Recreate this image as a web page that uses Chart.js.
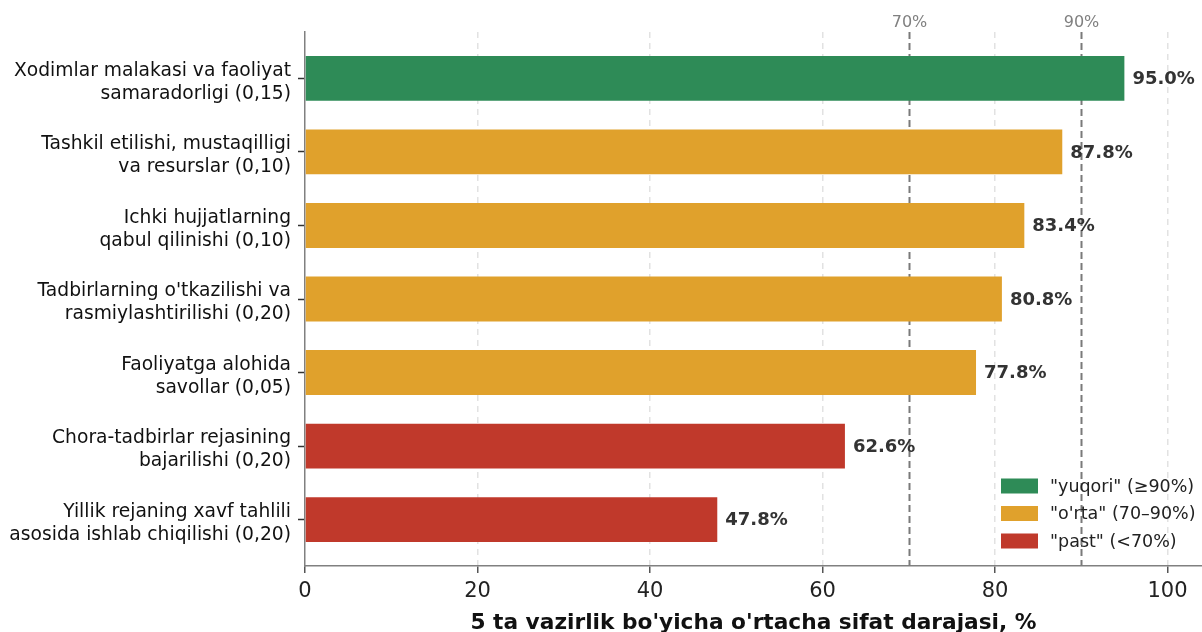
<!DOCTYPE html>
<html>
<head>
<meta charset="utf-8">
<script src="https://cdn.jsdelivr.net/npm/chart.js@4"></script>
<style>
  body { margin: 0; background: #fff; }
  #wrap { width: 1202px; height: 632px; position: relative; }
</style>
</head>
<body>
<div id="wrap"><canvas id="chart"></canvas></div>
<script>
// categories (two lines each) and values, top to bottom
var categories = [
    ['Xodimlar malakasi va faoliyat', 'samaradorligi (0,15)'],
    ['Tashkil etilishi, mustaqilligi', 'va resurslar (0,10)'],
    ['Ichki hujjatlarning', 'qabul qilinishi (0,10)'],
    ["Tadbirlarning o'tkazilishi va", 'rasmiylashtirilishi (0,20)'],
    ['Faoliyatga alohida', 'savollar (0,05)'],
    ['Chora-tadbirlar rejasining', 'bajarilishi (0,20)'],
    ['Yillik rejaning xavf tahlili', 'asosida ishlab chiqilishi (0,20)']
];
var values = [95.0, 87.8, 83.4, 80.8, 77.8, 62.6, 47.8];
var thresholds = [70, 90];
var thresholdLabels = ['70%', '90%'];
var xTickValues = [0, 20, 40, 60, 80, 100];
var levelNames = ['"yuqori" (≥90%)', '"o\'rta" (70–90%)', '"past" (<70%)'];
var levelColors = ['#2e8b57', '#e0a12c', '#c0392b'];

function levelOf(v) {
    if (v >= thresholds[1]) return 0;
    if (v >= thresholds[0]) return 1;
    return 2;
}

Chart.defaults.font.family = 'DejaVu Sans';
Chart.defaults.color = '#222';

var thresholdPlugin = {
    id: 'thresholds',
    beforeDatasetsDraw: function (chart) {
        var ctx = chart.ctx, area = chart.chartArea, xs = chart.scales.x;
        ctx.save();
        thresholds.forEach(function (t, i) {
            var px = Math.round(xs.getPixelForValue(t)) + 0.5;
            ctx.strokeStyle = '#7a7a7a';
            ctx.lineWidth = 2;
            ctx.setLineDash([7, 4]);
            ctx.beginPath();
            ctx.moveTo(px, area.top);
            ctx.lineTo(px, area.bottom);
            ctx.stroke();
            ctx.setLineDash([]);
            ctx.fillStyle = '#808080';
            ctx.font = '16px "DejaVu Sans"';
            ctx.textAlign = 'center';
            ctx.textBaseline = 'middle';
            ctx.fillText(thresholdLabels[i], px, area.top - 9);
        });
        ctx.restore();
    }
};

var valueLabelPlugin = {
    id: 'valueLabels',
    afterDatasetsDraw: function (chart) {
        var ctx = chart.ctx;
        var meta = chart.getDatasetMeta(0);
        ctx.save();
        ctx.font = 'bold 18px "DejaVu Sans"';
        ctx.fillStyle = '#333';
        ctx.textAlign = 'left';
        ctx.textBaseline = 'middle';
        meta.data.forEach(function (bar, i) {
            ctx.fillText(values[i].toFixed(1) + '%', bar.x + 8, bar.y + 1);
        });
        ctx.restore();
    }
};

var legendPlugin = {
    id: 'innerLegend',
    afterDraw: function (chart) {
        var ctx = chart.ctx, area = chart.chartArea;
        var left = area.right - 201;
        var rowH = 27.5;
        var firstY = area.bottom - 80;
        ctx.save();
        ctx.font = '17.5px "DejaVu Sans"';
        ctx.textAlign = 'left';
        ctx.textBaseline = 'middle';
        levelNames.forEach(function (name, i) {
            var y = firstY + i * rowH;
            ctx.fillStyle = levelColors[i];
            ctx.fillRect(left, y - 7.5, 37, 15);
            ctx.fillStyle = '#222';
            ctx.fillText(name, left + 49, y + 1);
        });
        ctx.restore();
    }
};

var ctx = document.getElementById('chart').getContext('2d');
var chart = new Chart(ctx, {
    type: 'bar',
    data: {
        datasets: [{
            data: values.map(function (v, i) { return { x: v, y: i }; }),
            backgroundColor: values.map(function (v) { return levelColors[levelOf(v)]; }),
            borderWidth: 0,
            barPercentage: 0.61,
            categoryPercentage: 1
        }]
    },
    options: {
        indexAxis: 'y',
        responsive: true,
        maintainAspectRatio: false,
        animation: false,
        layout: { padding: { top: 32, right: 0, left: 0, bottom: 0 } },
        plugins: {
            legend: { display: false },
            tooltip: { enabled: false }
        },
        scales: {
            x: {
                type: 'linear',
                min: 0,
                max: 104,
                afterBuildTicks: function (scale) {
                    scale.ticks = xTickValues.map(function (v) { return { value: v }; });
                },
                afterFit: function (scale) { scale.height = 66; },
                ticks: {
                    font: { size: 21 },
                    color: '#222',
                    padding: 6
                },
                grid: {
                    color: function (c) { return c.tick && c.tick.value === 0 ? 'rgba(0,0,0,0)' : '#e2e2e2'; },
                    lineWidth: 1.5,
                    drawTicks: true,
                    tickLength: 7,
                    tickColor: '#555',
                    tickWidth: 1.5
                },
                border: { display: true, color: '#808080', width: 1.5, dash: [6, 5] },
                title: {
                    display: true,
                    text: "5 ta vazirlik bo'yicha o'rtacha sifat darajasi, %",
                    font: { size: 21.7, weight: 'bold' },
                    color: '#111',
                    padding: { top: 0, bottom: -4 }
                }
            },
            y: {
                type: 'linear',
                reverse: true,
                offset: false,
                min: -0.63,
                max: 6.63,
                afterBuildTicks: function (scale) {
                    scale.ticks = categories.map(function (c, i) { return { value: i }; });
                },
                afterFit: function (scale) { scale.width = 305; },
                ticks: {
                    font: { size: 18.7, lineHeight: 1.23 },
                    color: '#111',
                    padding: 7,
                    labelOffset: 4,
                    callback: function (value) { return categories[value]; }
                },
                grid: {
                    offset: false,
                    drawOnChartArea: false,
                    drawTicks: true,
                    tickLength: 7,
                    tickColor: '#333',
                    tickWidth: 1.5
                },
                border: { display: true, color: '#808080', width: 1.5 }
            }
        }
    },
    plugins: [thresholdPlugin, valueLabelPlugin, legendPlugin]
});
</script>
</body>
</html>
